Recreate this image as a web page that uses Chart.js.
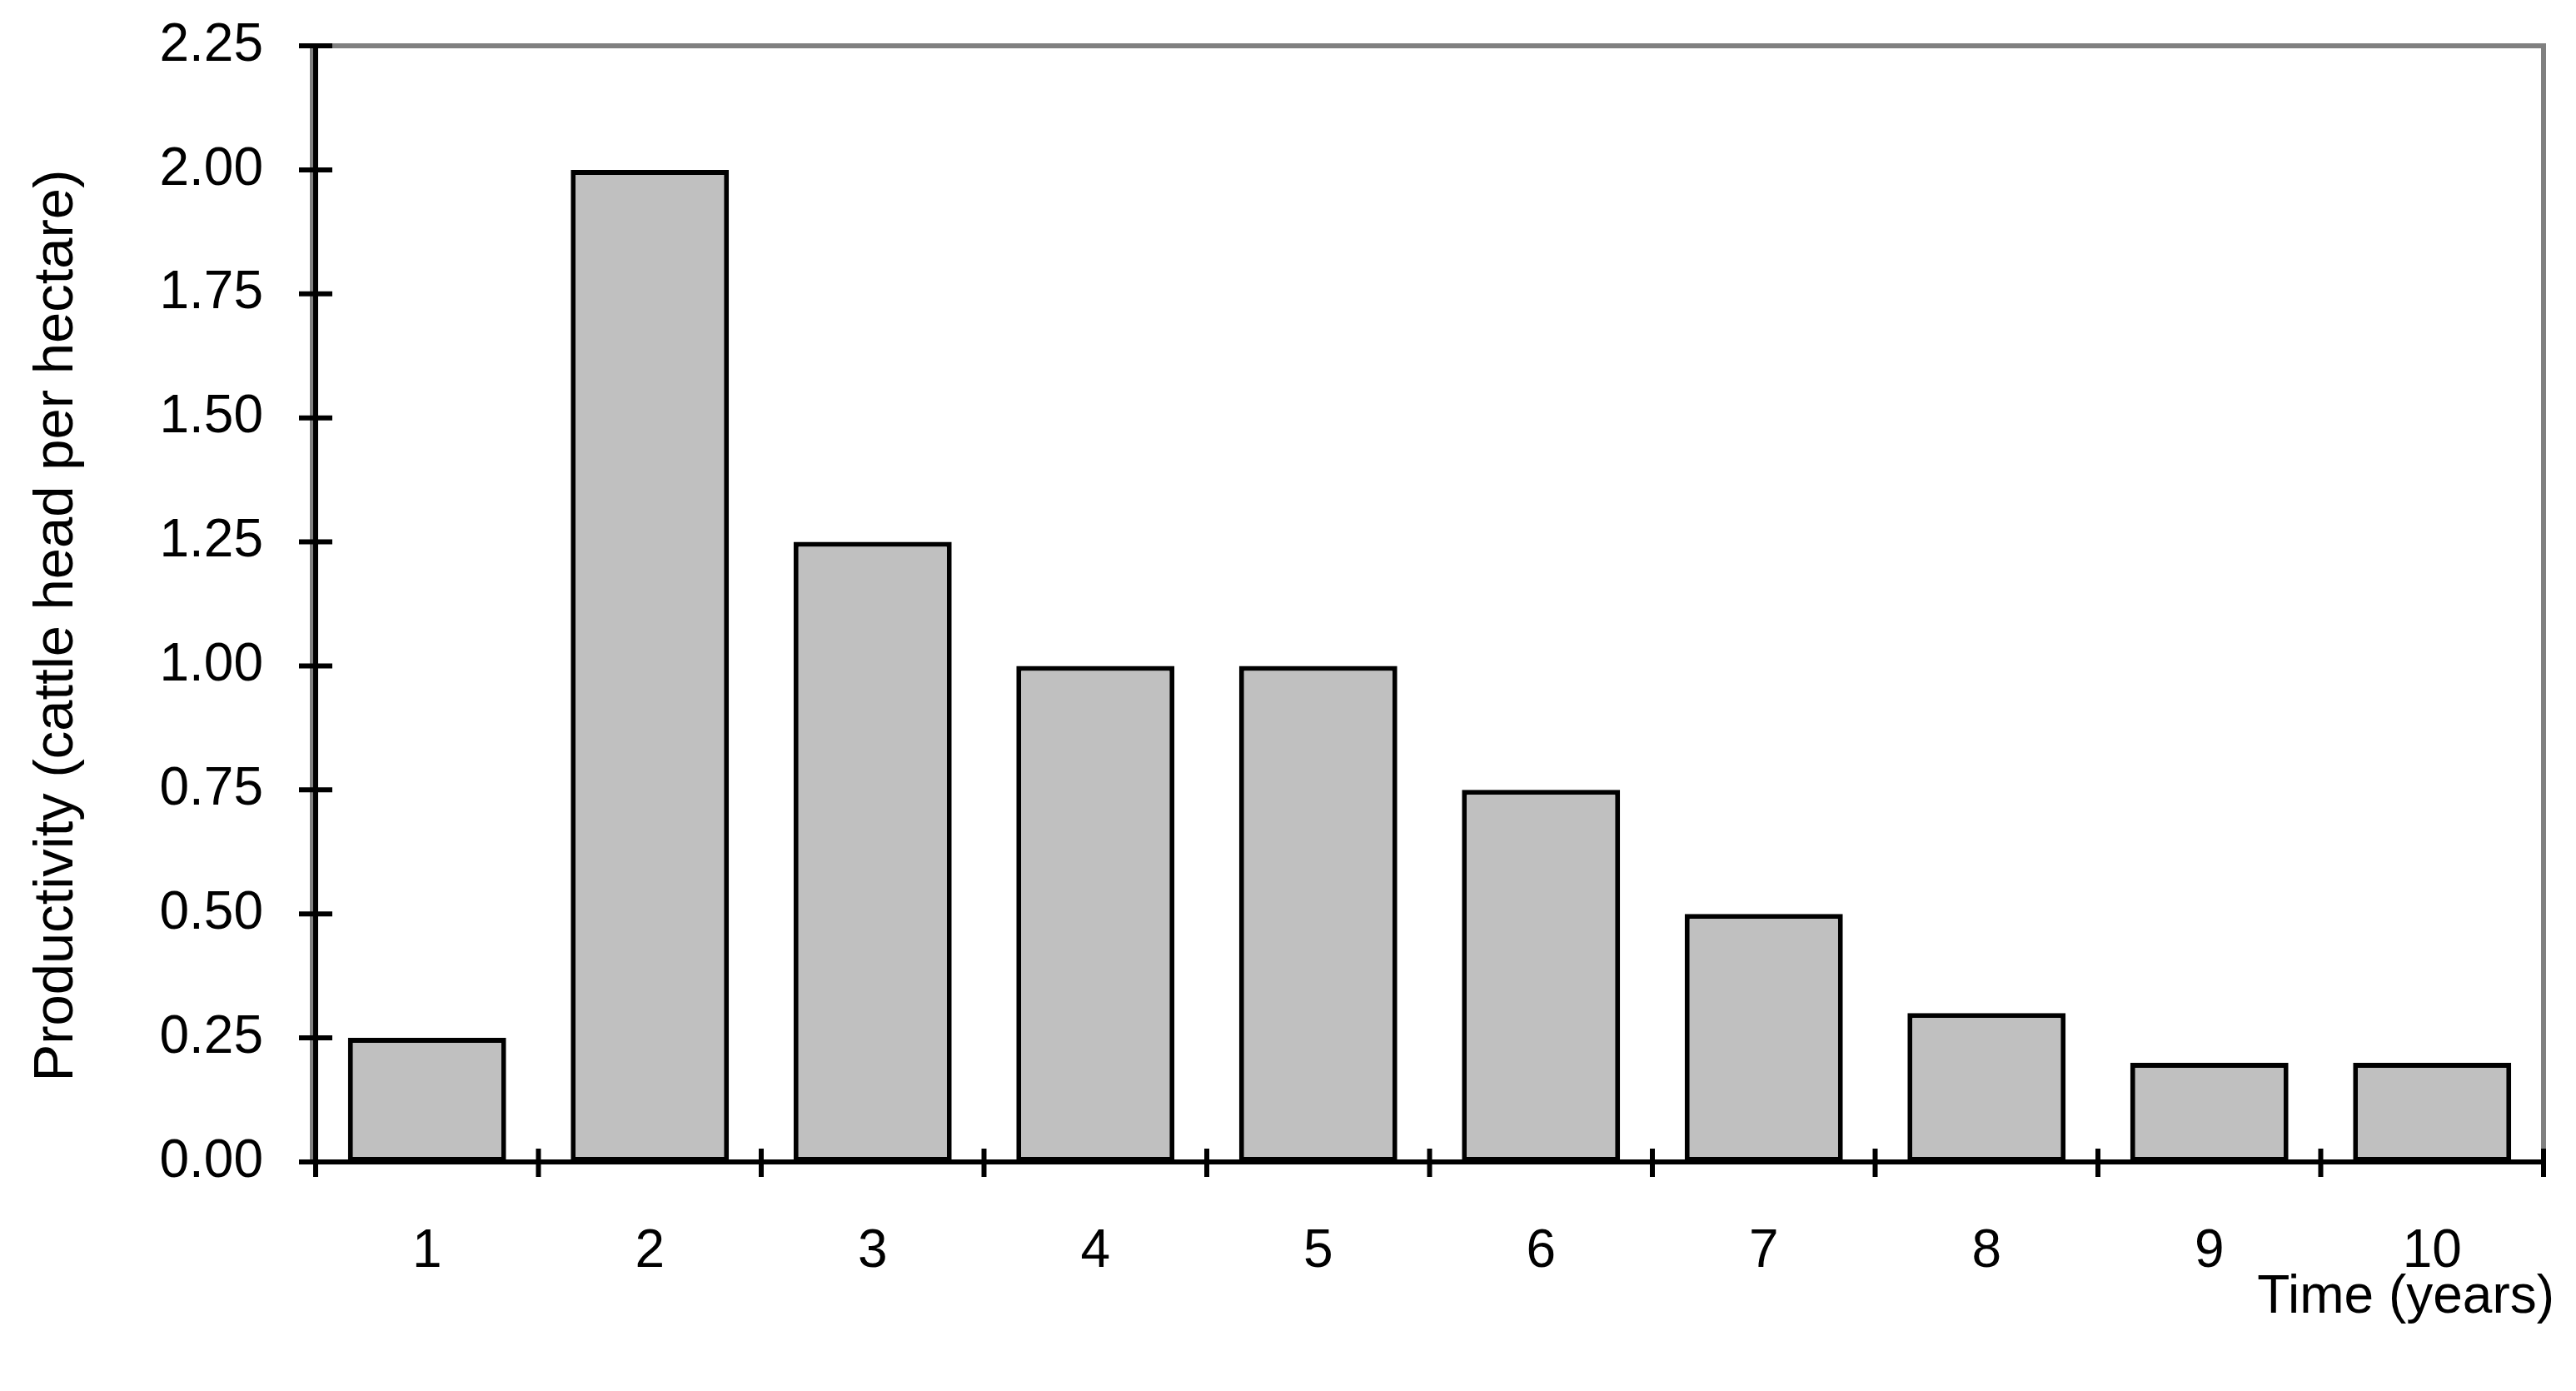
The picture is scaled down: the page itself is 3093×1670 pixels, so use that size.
<!DOCTYPE html>
<html>
<head>
<meta charset="utf-8">
<script src="https://cdn.jsdelivr.net/npm/chart.js@4.4.0/dist/chart.umd.min.js"></script>
<style>
html,body{margin:0;padding:0;background:#fff;}
#wrap{width:3093px;height:1670px;position:relative;}
</style>
</head>
<body>
<div id="wrap"><canvas id="c" width="3093" height="1670"></canvas></div>
<script>
const categories = ['1','2','3','4','5','6','7','8','9','10'];
const productivity = [0.25, 2.00, 1.25, 1.00, 1.00, 0.75, 0.50, 0.30, 0.20, 0.20];
const yTicks = [0, 0.25, 0.5, 0.75, 1.0, 1.25, 1.5, 1.75, 2.0, 2.25];
const yTitle = 'Productivity (cattle head per hectare)';
const xTitle = 'Time (years)';

const FONT = 'Liberation Sans, Arial, sans-serif';
const FS = 64;
const LW = 6;

const framePlugin = {
  id: 'frame',
  beforeDatasetsDraw(chart) {
    const {ctx, chartArea: a} = chart;
    ctx.save();
    ctx.strokeStyle = '#808080';
    ctx.lineWidth = LW;
    ctx.beginPath();
    ctx.moveTo(a.left - 4, a.bottom);
    ctx.lineTo(a.left - 4, a.top);
    ctx.lineTo(a.right, a.top);
    ctx.lineTo(a.right, a.bottom);
    ctx.stroke();
    ctx.restore();
  },
  afterDatasetsDraw(chart) {
    const {ctx, chartArea: a, scales} = chart;
    const x = scales.x, y = scales.y;
    ctx.save();
    ctx.strokeStyle = '#000';
    ctx.lineWidth = LW;
    ctx.lineCap = 'butt';
    ctx.beginPath();
    ctx.moveTo(a.left, a.bottom);
    ctx.lineTo(a.left, a.top);
    ctx.moveTo(a.left - 20, a.bottom);
    ctx.lineTo(a.right, a.bottom);
    yTicks.forEach(v => {
      const py = y.getPixelForValue(v);
      ctx.moveTo(a.left - 20, py);
      ctx.lineTo(a.left + 20, py);
    });
    for (let i = 0; i <= categories.length; i++) {
      let px;
      if (i === 0) px = a.left;
      else if (i === categories.length) px = a.right;
      else px = (x.getPixelForValue(i - 1) + x.getPixelForValue(i)) / 2;
      ctx.moveTo(px, a.bottom - 16);
      ctx.lineTo(px, a.bottom + 18);
    }
    ctx.stroke();
    ctx.fillStyle = '#000';
    ctx.font = FS + 'px ' + FONT;
    ctx.textAlign = 'right';
    ctx.textBaseline = 'middle';
    ctx.fillText(xTitle, 3067, 1558);
    // y title
    ctx.save();
    ctx.translate(69, 751);
    ctx.rotate(-Math.PI / 2);
    ctx.font = '67px ' + FONT;
    ctx.textAlign = 'center';
    ctx.textBaseline = 'middle';
    ctx.fillText(yTitle, 0, 0);
    ctx.restore();
    ctx.restore();
  }
};

new Chart(document.getElementById('c'), {
  type: 'bar',
  data: {
    labels: categories,
    datasets: [{
      data: productivity,
      backgroundColor: '#c0c0c0',
      borderColor: '#000',
      borderWidth: LW,
      borderSkipped: false,
      categoryPercentage: 1.0,
      barPercentage: 0.71
    }]
  },
  options: {
    responsive: false,
    animation: false,
    devicePixelRatio: 1,
    layout: {padding: {top: 55, right: 39, left: 0, bottom: 0}},
    plugins: {legend: {display: false}, tooltip: {enabled: false}},
    scales: {
      x: {
        offset: true,
        grid: {display: false, drawTicks: false},
        border: {display: false},
        ticks: {color: '#000', font: {family: FONT, size: FS}, padding: 70, maxRotation: 0},
        afterFit(s) { s.height = 275; s.paddingLeft = 0; s.paddingRight = 0; }
      },
      y: {
        min: 0, max: 2.25,
        afterBuildTicks(s) { s.ticks = yTicks.map(v => ({value: v})); },
        grid: {display: false, drawTicks: false},
        border: {display: false},
        ticks: {color: '#000', font: {family: FONT, size: FS}, padding: 63,
          callback: v => Number(v).toFixed(2)},
        title: {display: false},
        afterFit(s) { s.width = 379; s.paddingTop = 0; s.paddingBottom = 0; }
      }
    }
  },
  plugins: [framePlugin]
});
</script>
</body>
</html>
